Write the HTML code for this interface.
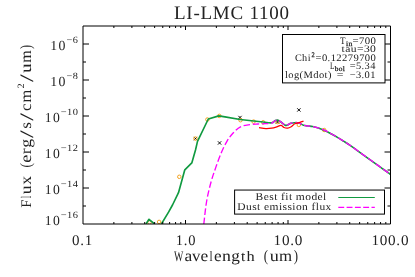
<!DOCTYPE html>
<html><head><meta charset="utf-8"><title>LI-LMC 1100</title>
<style>html,body{margin:0;padding:0;background:#fff;}svg{display:block;will-change:transform;}text{font-family:"Liberation Serif",serif;fill:#222;text-rendering:geometricPrecision;}</style>
</head><body>
<svg width="415" height="277" viewBox="0 0 415 277">
<rect width="415" height="277" fill="#fff"/>
<defs><clipPath id="pc"><rect x="83.0" y="26.0" width="307.5" height="198.0"/></clipPath></defs>
<g fill="none" stroke-linejoin="round" clip-path="url(#pc)">
<path d="M193.80 136.90l3.3 3.3M193.80 140.20l3.3 -3.3M217.91 141.31l3.3 3.3M217.91 144.61l3.3 -3.3M238.35 115.85l3.3 3.3M238.35 119.15l3.3 -3.3M275.85 120.35l3.3 3.3M275.85 123.65l3.3 -3.3M297.22 108.29l3.3 3.3M297.22 111.59l3.3 -3.3" stroke="#000" stroke-width="0.95"/>
<circle cx="149.5" cy="222.5" r="1.75" stroke="#f5a31f" stroke-width="1.0"/>
<circle cx="159.1" cy="221.9" r="1.75" stroke="#f5a31f" stroke-width="1.0"/>
<circle cx="179.3" cy="176.8" r="1.75" stroke="#f5a31f" stroke-width="1.0"/>
<circle cx="195.45" cy="138.55" r="1.75" stroke="#f5a31f" stroke-width="1.0"/>
<circle cx="207.4" cy="119.5" r="1.75" stroke="#f5a31f" stroke-width="1.0"/>
<circle cx="219.3" cy="115.9" r="1.75" stroke="#f5a31f" stroke-width="1.0"/>
<circle cx="240.5" cy="120.2" r="1.75" stroke="#f5a31f" stroke-width="1.0"/>
<circle cx="253.6" cy="121.6" r="1.75" stroke="#f5a31f" stroke-width="1.0"/>
<circle cx="263.2" cy="122.3" r="1.75" stroke="#f5a31f" stroke-width="1.0"/>
<circle cx="277.5" cy="122" r="1.75" stroke="#f5a31f" stroke-width="1.0"/>
<circle cx="298.8" cy="124.9" r="1.75" stroke="#f5a31f" stroke-width="1.0"/>
<circle cx="324.2" cy="130" r="1.75" stroke="#f5a31f" stroke-width="1.0"/>
<path d="M146.0 224.0L149.0 219.3L154.6 224.0" stroke="#109a40" stroke-width="1.65"/>
<path d="M161.4 224.0L168.7 211.9L172.5 205.0L178.5 192.7L184.8 169.8L191.8 162.9L195.5 150.0L197.5 141.4L208.3 119.0L218.8 115.9L225.0 116.9L240.1 119.5L253.7 121.0L263.0 122.0" stroke="#109a40" stroke-width="1.65"/>
<path d="M263.00 122.00C264.45 122.13 269.65 123.05 271.70 122.80C273.75 122.55 274.22 120.92 275.30 120.50C276.38 120.08 277.25 120.05 278.20 120.30C279.15 120.55 279.92 121.23 281.00 122.00C282.08 122.77 283.73 124.35 284.70 124.90C285.67 125.45 285.83 125.55 286.80 125.30C287.77 125.05 289.17 123.83 290.50 123.40C291.83 122.97 293.38 122.77 294.80 122.70C296.22 122.63 297.55 122.57 299.00 123.00C300.45 123.43 302.00 124.80 303.50 125.30C305.00 125.80 306.48 125.80 308.00 126.00C309.52 126.20 310.77 126.13 312.60 126.50C314.43 126.87 316.88 127.50 319.00 128.20C321.12 128.90 323.22 129.73 325.30 130.70C327.38 131.67 329.40 132.85 331.50 134.00C333.60 135.15 335.82 136.37 337.90 137.60C339.98 138.83 341.90 140.07 344.00 141.40C346.10 142.73 348.33 144.12 350.50 145.60C352.67 147.08 354.88 148.77 357.00 150.30C359.12 151.83 361.12 153.30 363.20 154.80C365.28 156.30 367.40 157.80 369.50 159.30C371.60 160.80 373.72 162.30 375.80 163.80C377.88 165.30 379.90 166.78 382.00 168.30C384.10 169.82 387.02 171.90 388.40 172.90C389.78 173.90 389.98 174.07 390.30 174.30" stroke="#109a40" stroke-width="1.65"/>
<path d="M203.80 224.00C204.27 220.25 205.42 208.42 206.60 201.50C207.78 194.58 209.37 188.18 210.90 182.50C212.43 176.82 214.03 172.45 215.80 167.40C217.57 162.35 219.60 156.63 221.50 152.20C223.40 147.77 225.30 143.95 227.20 140.80C229.10 137.65 230.68 135.63 232.90 133.30C235.12 130.97 237.65 128.25 240.50 126.80C243.35 125.35 247.08 125.07 250.00 124.60C252.92 124.13 255.50 124.15 258.00 124.00C260.50 123.85 262.72 123.85 265.00 123.70C267.28 123.55 269.98 123.63 271.70 123.10C273.42 122.57 274.22 120.97 275.30 120.50C276.38 120.03 277.25 120.05 278.20 120.30C279.15 120.55 279.92 121.23 281.00 122.00C282.08 122.77 283.73 124.35 284.70 124.90C285.67 125.45 285.83 125.55 286.80 125.30C287.77 125.05 289.17 123.83 290.50 123.40C291.83 122.97 293.38 122.77 294.80 122.70C296.22 122.63 297.55 122.57 299.00 123.00C300.45 123.43 302.00 124.80 303.50 125.30C305.00 125.80 306.48 125.80 308.00 126.00C309.52 126.20 310.77 126.13 312.60 126.50C314.43 126.87 316.88 127.50 319.00 128.20C321.12 128.90 323.22 129.73 325.30 130.70C327.38 131.67 329.40 132.85 331.50 134.00C333.60 135.15 335.82 136.37 337.90 137.60C339.98 138.83 341.90 140.07 344.00 141.40C346.10 142.73 348.33 144.12 350.50 145.60C352.67 147.08 354.88 148.77 357.00 150.30C359.12 151.83 361.12 153.30 363.20 154.80C365.28 156.30 367.40 157.80 369.50 159.30C371.60 160.80 373.72 162.30 375.80 163.80C377.88 165.30 379.90 166.78 382.00 168.30C384.10 169.82 387.02 171.90 388.40 172.90C389.78 173.90 389.98 174.07 390.30 174.30" stroke="#ff00ff" stroke-width="1.35" stroke-dasharray="6.5 2.65"/>
<path d="M259.00 127.70C260.15 127.85 263.78 128.52 265.90 128.60C268.02 128.68 269.90 128.48 271.70 128.20C273.50 127.92 275.15 127.37 276.70 126.90C278.25 126.43 279.78 125.30 281.00 125.40C282.22 125.50 282.90 127.03 284.00 127.50C285.10 127.97 286.40 128.33 287.60 128.20C288.80 128.07 290.00 127.43 291.20 126.70C292.40 125.97 293.35 124.52 294.80 123.80C296.25 123.08 298.45 122.83 299.90 122.40C301.35 121.97 302.90 121.40 303.50 121.20" stroke="#ff0000" stroke-width="1.25"/>
</g>
<g stroke="#000" stroke-width="1" fill="none">
<path d="M83.0 224.0V26.0H390.5V224.0Z"/>
<path d="M113.86 224.0v-2M113.86 26.0v2M131.90 224.0v-2M131.90 26.0v2M144.71 224.0v-2M144.71 26.0v2M154.64 224.0v-2M154.64 26.0v2M162.76 224.0v-2M162.76 26.0v2M169.62 224.0v-2M169.62 26.0v2M175.57 224.0v-2M175.57 26.0v2M180.81 224.0v-2M180.81 26.0v2M185.50 224.0v-4M185.50 26.0v4M216.36 224.0v-2M216.36 26.0v2M234.40 224.0v-2M234.40 26.0v2M247.21 224.0v-2M247.21 26.0v2M257.14 224.0v-2M257.14 26.0v2M265.26 224.0v-2M265.26 26.0v2M272.12 224.0v-2M272.12 26.0v2M278.07 224.0v-2M278.07 26.0v2M283.31 224.0v-2M283.31 26.0v2M288.00 224.0v-4M288.00 26.0v4M318.86 224.0v-2M318.86 26.0v2M336.90 224.0v-2M336.90 26.0v2M349.71 224.0v-2M349.71 26.0v2M359.64 224.0v-2M359.64 26.0v2M367.76 224.0v-2M367.76 26.0v2M374.62 224.0v-2M374.62 26.0v2M380.57 224.0v-2M380.57 26.0v2M385.81 224.0v-2M385.81 26.0v2M83.0 206.00h3M390.5 206.00h-3M83.0 188.00h6M390.5 188.00h-6M83.0 170.00h3M390.5 170.00h-3M83.0 152.00h6M390.5 152.00h-6M83.0 134.00h3M390.5 134.00h-3M83.0 116.00h6M390.5 116.00h-6M83.0 98.00h3M390.5 98.00h-3M83.0 80.00h6M390.5 80.00h-6M83.0 62.00h3M390.5 62.00h-3M83.0 44.00h6M390.5 44.00h-6"/>
</g>
<rect x="282.5" y="34.5" width="102.5" height="48.4" fill="#fff" stroke="#000" stroke-width="1"/>
<rect x="234.6" y="190.05" width="149.9" height="24.05" fill="#fff" stroke="#000" stroke-width="1"/>
<path d="M338.3 197.5H374.8" stroke="#109a40" stroke-width="1" fill="none"/>
<path d="M338.3 207.4H374.8" stroke="#ff00ff" stroke-width="1.2" stroke-dasharray="5.9 2.4" fill="none"/>
<text x="231.5" y="18.6" font-size="19" text-anchor="middle" textLength="115" lengthAdjust="spacing" fill="#585858" xml:space="preserve">LI-LMC 1100</text>
<text transform="translate(72.1,244.8) scale(1.027,1)" font-size="14.6" x="-0.00 8.01 12.37" y="0"  fill="#505050">0.1</text>
<text transform="translate(175.8,244.8) scale(0.994,1)" font-size="14.6" x="-0.00 8.03 12.42" y="0"  fill="#505050">1.0</text>
<text transform="translate(273.6,244.8) scale(1.041,1)" font-size="14.6" x="-0.00 8.00 16.00 20.35" y="0"  fill="#505050">10.0</text>
<text transform="translate(371.4,244.8) scale(1.040,1)" font-size="14.6" x="-0.00 8.00 16.00 24.00 28.36" y="0"  fill="#505050">100.0</text>
<text transform="translate(174.00,261.4) scale(0.675,1)" font-size="14.6" fill="#4a4a4a" >W</text>
<text transform="translate(184.45,261.4) scale(1.188,1.09)" font-size="14.6" fill="#4a4a4a" >a</text>
<text transform="translate(191.95,261.4) scale(1.151,1.09)" font-size="14.6" fill="#4a4a4a" >v</text>
<text transform="translate(200.55,261.4) scale(1.188,1.09)" font-size="14.6" fill="#4a4a4a" >e</text>
<text transform="translate(209.60,261.4) scale(0.764,1)" font-size="14.6" fill="#4a4a4a" >l</text>
<text transform="translate(214.05,261.4) scale(1.172,1.09)" font-size="14.6" fill="#4a4a4a" >e</text>
<text transform="translate(221.95,261.4) scale(1.219,1.09)" font-size="14.6" fill="#4a4a4a" >n</text>
<text transform="translate(231.35,261.4) scale(1.178,1.09)" font-size="14.6" fill="#4a4a4a" >g</text>
<text transform="translate(241.00,261.4) scale(1.059,1)" font-size="14.6" fill="#4a4a4a" >t</text>
<text transform="translate(246.50,261.4) scale(1.123,1)" font-size="14.6" fill="#4a4a4a" >h</text>
<text transform="translate(263.70,261.4) scale(0.884,1.09)" font-size="14.6" fill="#4a4a4a" >(</text>
<text transform="translate(269.75,261.4) scale(1.247,1.09)" font-size="14.6" fill="#4a4a4a" >u</text>
<text transform="translate(279.05,261.4) scale(1.153,1.09)" font-size="14.6" fill="#4a4a4a" >m</text>
<text transform="translate(293.80,261.4) scale(0.884,1.09)" font-size="14.6" fill="#4a4a4a" >)</text>
<text transform="translate(44.8,225.0) scale(0.987,1)" font-size="13.8" x="-0.00 8.30" y="0"  fill="#505050">10</text>
<text transform="translate(60.8,218.0) scale(1.088,1)" font-size="9.6" x="-0.00 5.77 10.92" y="0"  fill="#222">−16</text>
<text transform="translate(44.8,193.8) scale(0.987,1)" font-size="13.8" x="-0.00 8.30" y="0"  fill="#505050">10</text>
<text transform="translate(60.8,186.8) scale(1.088,1)" font-size="9.6" x="-0.00 5.77 10.92" y="0"  fill="#222">−14</text>
<text transform="translate(44.8,157.8) scale(0.987,1)" font-size="13.8" x="-0.00 8.30" y="0"  fill="#505050">10</text>
<text transform="translate(60.8,150.8) scale(1.088,1)" font-size="9.6" x="-0.00 5.77 10.92" y="0"  fill="#222">−12</text>
<text transform="translate(44.8,121.8) scale(0.987,1)" font-size="13.8" x="-0.00 8.30" y="0"  fill="#505050">10</text>
<text transform="translate(60.8,114.8) scale(1.088,1)" font-size="9.6" x="-0.00 5.77 10.92" y="0"  fill="#222">−10</text>
<text transform="translate(50.3,85.8) scale(1.001,1)" font-size="13.8" x="-0.00 8.28" y="0"  fill="#505050">10</text>
<text transform="translate(66.6,78.8) scale(1.069,1)" font-size="9.6" x="-0.00 5.77" y="0"  fill="#222">−8</text>
<text transform="translate(50.3,49.8) scale(1.001,1)" font-size="13.8" x="-0.00 8.28" y="0"  fill="#505050">10</text>
<text transform="translate(66.6,42.8) scale(1.069,1)" font-size="9.6" x="-0.00 5.77" y="0"  fill="#222">−6</text>
<g transform="translate(31.3,207.8) rotate(-90)">
<text transform="translate(0.00,0) scale(1.010,1)" font-size="14.6" fill="#4a4a4a" >F</text>
<text transform="translate(9.60,0) scale(0.616,1)" font-size="14.6" fill="#4a4a4a" >l</text>
<text transform="translate(13.55,0) scale(1.205,1.09)" font-size="14.6" fill="#4a4a4a" >u</text>
<text transform="translate(22.95,0) scale(1.205,1.09)" font-size="14.6" fill="#4a4a4a" >x</text>
<text transform="translate(40.30,0) scale(0.884,1.09)" font-size="14.6" fill="#4a4a4a" >(</text>
<text transform="translate(44.95,0) scale(1.250,1.09)" font-size="14.6" fill="#4a4a4a" >e</text>
<text transform="translate(53.55,0) scale(1.234,1.09)" font-size="14.6" fill="#4a4a4a" >r</text>
<text transform="translate(60.05,0) scale(1.219,1.09)" font-size="14.6" fill="#4a4a4a" >g</text>
<text transform="translate(69.8,1.5) scale(1.9,1.3)" font-size="14.6" fill="#4a4a4a" >/</text>
<text transform="translate(79.15,0) scale(1.180,1.09)" font-size="14.6" fill="#4a4a4a" >s</text>
<text transform="translate(87.1,1.5) scale(1.9,1.3)" font-size="14.6" fill="#4a4a4a" >/</text>
<text transform="translate(96.75,0) scale(1.157,1.09)" font-size="14.6" fill="#4a4a4a" >c</text>
<text transform="translate(105.35,0) scale(1.118,1.09)" font-size="14.6" fill="#4a4a4a" >m</text>
<text transform="translate(125.8,1.5) scale(1.9,1.3)" font-size="14.6" fill="#4a4a4a" >/</text>
<text transform="translate(134.85,0) scale(1.315,1.09)" font-size="14.6" fill="#4a4a4a" >u</text>
<text transform="translate(144.95,0) scale(1.100,1.09)" font-size="14.6" fill="#4a4a4a" >m</text>
<text transform="translate(158.80,0) scale(0.823,1.09)" font-size="14.6" fill="#4a4a4a" >)</text>
<text transform="translate(119.30,-7.4) scale(1.083,1)" font-size="9.6" fill="#333" >2</text>
</g>
<text transform="translate(340,43.5) scale(0.900,1)" font-size="10" x="-0.00" y="0"  fill="#303030">T</text>
<text transform="translate(346,45.6) scale(1.106,1)" font-size="7" x="-0.00 2.20" y="0"  fill="#222" stroke="#222" stroke-width="0.25">in</text>
<text transform="translate(352.5,43.5) scale(1.076,1)" font-size="10" x="-0.00 6.01 11.38 16.76" y="0"  fill="#303030">=700</text>
<text transform="translate(341.6,52.2) scale(1.160,1)" font-size="10" x="-0.00 3.12 7.91 13.25 19.24 24.58" y="0"  fill="#303030">tau=30</text>
<text transform="translate(294.9,60.6) scale(1.024,1)" font-size="10" x="-0.00 7.06 12.45" y="0"  fill="#303030">Chi</text>
<text transform="translate(311.4,57.4) scale(0.914,1)" font-size="7" x="-0.00" y="0"  fill="#222" stroke="#222" stroke-width="0.25">2</text>
<text transform="translate(315.5,60.6) scale(1.061,1)" font-size="10" x="-0.00 6.02 11.39 14.27 19.65 25.02 30.40 35.78 41.15 46.53 51.91" y="0"  fill="#303030">=0.12279700</text>
<text transform="translate(330,69.2) scale(0.736,1)" font-size="10" x="-0.00" y="0"  fill="#303030">L</text>
<text transform="translate(334.8,71.2) scale(1.055,1)" font-size="7" x="-0.00 3.77 7.53" y="0"  fill="#222" stroke="#222" stroke-width="0.25">bol</text>
<text transform="translate(349.7,69.2) scale(1.042,1)" font-size="10" x="-0.00 6.02 11.41 14.29 19.68" y="0"  fill="#303030">=5.34</text>
<text transform="translate(284.9,77.8) scale(1.053,1)" font-size="10" x="-0.00 3.16 8.54 13.92 17.63 26.90 32.28 37.66 40.82" y="0"  fill="#303030">log(Mdot)</text>
<text transform="translate(336.8,77.8) scale(1.188,1)" font-size="10" x="-0.00" y="0"  fill="#303030">=</text>
<text transform="translate(349.7,77.8) scale(1.042,1)" font-size="10" x="-0.00 6.02 11.41 14.29 19.68" y="0"  fill="#303030">−3.01</text>
<text transform="translate(255.6,200.3) scale(1.097,1)" font-size="10.5" x="-0.00 7.39 12.43 16.90 20.20 23.21 27.09 30.39 33.69 36.70 45.25 50.88 56.51 61.55" y="0"  fill="#303030">Best fit model</text>
<text transform="translate(237.3,209.6) scale(1.095,1)" font-size="10.5" x="-0.00 7.97 13.60 18.07 21.37 24.38 29.42 37.97 41.27 45.74 50.21 53.52 59.15 64.78 67.79 71.67 74.97 80.61" y="0"  fill="#303030">Dust emission flux</text>
</svg></body></html>
